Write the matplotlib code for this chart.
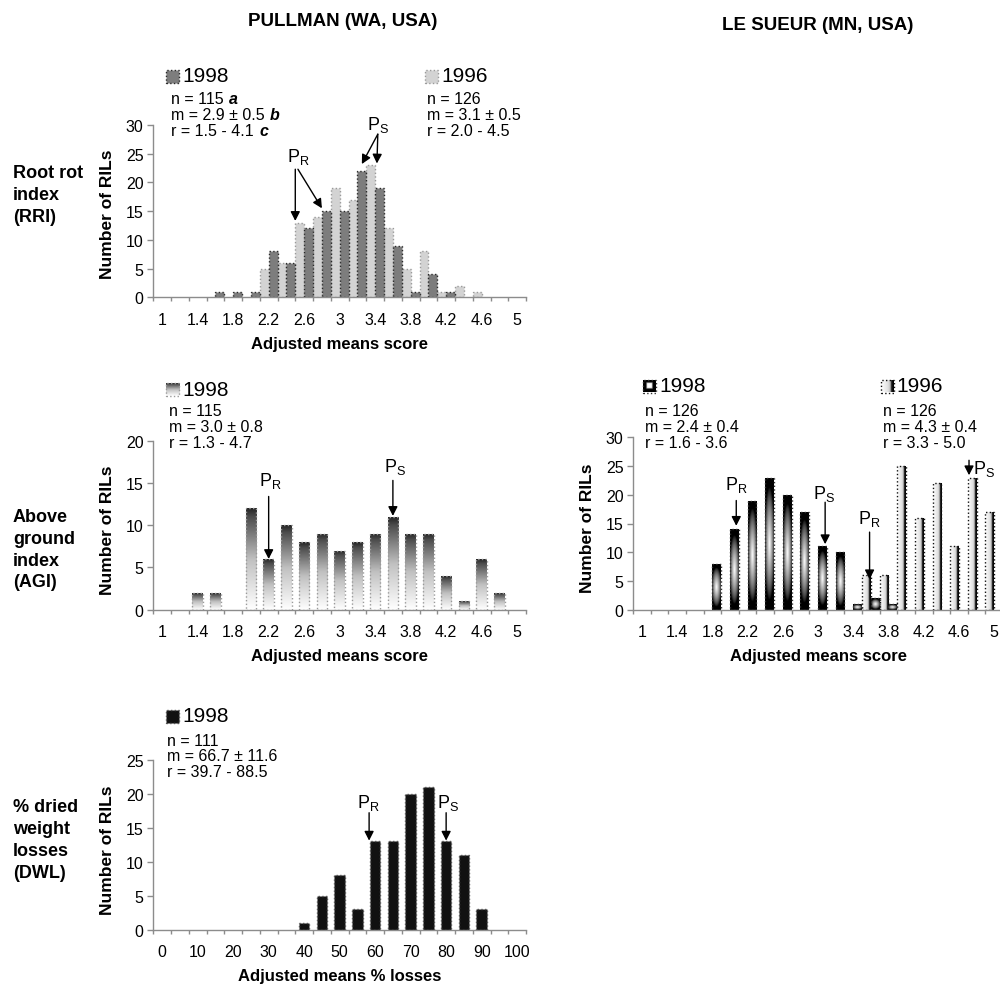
import numpy as np
import matplotlib
matplotlib.use("Agg")
import matplotlib.pyplot as plt

plt.rcParams['font.family'] = ['Liberation Sans', 'DejaVu Sans']
plt.rcParams['mathtext.fontset'] = 'custom'
plt.rcParams['mathtext.rm'] = 'Liberation Sans'
plt.rcParams['mathtext.it'] = 'Liberation Sans:italic'
plt.rcParams['mathtext.bf'] = 'Liberation Sans:bold'

# ---- data ----
score_bins = [1.0, 1.2, 1.4, 1.6, 1.8, 2.0, 2.2, 2.4, 2.6, 2.8, 3.0,
              3.2, 3.4, 3.6, 3.8, 4.0, 4.2, 4.4, 4.6, 4.8, 5.0]
score_labels = ['1', '1.4', '1.8', '2.2', '2.6', '3', '3.4', '3.8', '4.2', '4.6', '5']
loss_bins = [0, 5, 10, 15, 20, 25, 30, 35, 40, 45, 50,
             55, 60, 65, 70, 75, 80, 85, 90, 95, 100]
loss_labels = ['0', '10', '20', '30', '40', '50', '60', '70', '80', '90', '100']

rri_1998 = [0, 0, 0, 1, 1, 1, 8, 6, 12, 15, 15, 22, 19, 9, 1, 4, 1, 0, 0, 0, 0]
rri_1996 = [0, 0, 0, 0, 0, 0, 5, 6, 13, 14, 19, 17, 23, 12, 5, 8, 1, 2, 1, 0, 0]
agi_1998 = [0, 0, 2, 2, 0, 12, 6, 10, 8, 9, 7, 8, 9, 11, 9, 9, 4, 1, 6, 2, 0]
ls_1998 = [0, 0, 0, 0, 8, 14, 19, 23, 20, 17, 11, 10, 1, 2, 1, 0, 0, 0, 0, 0, 0]
ls_1996 = [0, 0, 0, 0, 0, 0, 0, 0, 0, 0, 0, 0, 0, 6, 6, 25, 16, 22, 11, 23, 17]
dwl_1998 = [0, 0, 0, 0, 0, 0, 0, 0, 1, 5, 8, 3, 13, 13, 20, 21, 13, 11, 3, 0, 0]

rri_stats_1998 = ['n = 115', 'm = 2.9 \u00b1 0.5', 'r = 1.5 - 4.1']
rri_marks_1998 = ['a', 'b', 'c']
rri_stats_1996 = ['n = 126', 'm = 3.1 \u00b1 0.5', 'r = 2.0 - 4.5']
agi_stats_1998 = ['n = 115', 'm = 3.0 \u00b1 0.8', 'r = 1.3 - 4.7']
ls_stats_1998 = ['n = 126', 'm = 2.4 \u00b1 0.4', 'r = 1.6 - 3.6']
ls_stats_1996 = ['n = 126', 'm = 4.3 \u00b1 0.4', 'r = 3.3 - 5.0']
dwl_stats_1998 = ['n = 111', 'm = 66.7 \u00b1 11.6', 'r = 39.7 - 88.5']

W, H = 1000, 987
GREY = '#8c8c8c'
TICK_FS = 11.5
fig = plt.figure(figsize=(10, 9.87), dpi=100)


def box(left, top, right, bottom):
    return [left / W, 1 - bottom / H, (right - left) / W, (bottom - top) / H]


def ftext(x, y, s, **kw):
    kw.setdefault('va', 'center')
    return fig.text(x / W, 1 - y / H, s, **kw)


def nonzero(xs, ys, shift=0.0):
    pts = [(x + shift, y) for x, y in zip(xs, ys) if y > 0]
    return [p[0] for p in pts], [p[1] for p in pts]


def base_axes(rect, ymax, ystep, bins, labels):
    ax = fig.add_axes(rect)
    for s in ('top', 'right'):
        ax.spines[s].set_visible(False)
    for s in ('left', 'bottom'):
        ax.spines[s].set_color(GREY)
        ax.spines[s].set_linewidth(1)
    step = bins[1] - bins[0]
    edges = [b - step / 2 for b in bins] + [bins[-1] + step / 2]
    ax.set_xlim(edges[0], edges[-1])
    ax.set_xticks(edges)
    ax.set_xticklabels([])
    ax.set_xticks(bins[::2], minor=True)
    ax.set_xticklabels(labels, minor=True)
    ax.tick_params(axis='x', which='major', direction='out', length=3, width=1, color=GREY)
    ax.tick_params(axis='x', which='minor', length=0, pad=10.5, labelsize=TICK_FS)
    ax.set_ylim(0, ymax)
    ax.set_yticks(range(0, ymax + 1, ystep))
    ax.tick_params(axis='y', direction='out', length=4, width=1, color=GREY, labelsize=TICK_FS, pad=3)
    return ax


def gradient_fill(ax, bars, arr):
    for b in bars:
        x0, y0, w, h = b.get_x(), b.get_y(), b.get_width(), b.get_height()
        im = ax.imshow(arr, extent=(x0, x0 + w, y0, y0 + h), cmap='gray', vmin=0, vmax=1,
                       aspect='auto', interpolation='bilinear', zorder=1)
        im.set_clip_path(b)


def legend_patch(left, top, size, face='none', edge='k', grad=None):
    pax = fig.add_axes(box(left, top, left + size, top + size))
    pax.set_axis_off()
    bars = pax.bar([0.5], [1], width=1, facecolor=face, edgecolor=edge,
                   linestyle=':', linewidth=1, clip_on=False, zorder=2)
    if grad is not None:
        gradient_fill(pax, bars, grad)
    pax.set_xlim(0, 1)
    pax.set_ylim(0, 1)


def legend_block(px, tx, ty, year, stats, sx, sy, grad=None, face='none', edge='k', marks=None):
    legend_patch(px, ty - 6.5, 13, face=face, edge=edge, grad=grad)
    ftext(tx, ty, year, fontsize=15)
    for i, line in enumerate(stats):
        t = ftext(sx, sy + i * 16, line, fontsize=11.5)
        if marks:
            fig.axes[0].annotate(marks[i], xy=(1, 0.5), xycoords=t, xytext=(4, 0),
                                 textcoords='offset points', va='center', ha='left',
                                 fontsize=11.5, fontweight='bold', fontstyle='italic')


def p_arrow(ax, sub, text_xy, starts, ends, ha='center'):
    ax.text(text_xy[0], text_xy[1], 'P$_{\\mathrm{' + sub + '}}$', ha=ha, va='center',
            fontsize=13, clip_on=False)
    for s, e in zip(starts, ends):
        ax.annotate('', xy=e, xytext=s, annotation_clip=False,
                    arrowprops=dict(arrowstyle='-|>,head_length=0.55,head_width=0.28',
                                    color='black', lw=1, shrinkA=0, shrinkB=0))


# gradients
t = np.linspace(0, 1, 64)[:, None]
agi_grad = np.interp(t, [0, 0.08, 0.5, 1], [0.15, 0.3, 0.75, 1.0])
u = np.linspace(-1, 1, 40)
v = np.linspace(-1, 1, 160)
U, V = np.meshgrid(u, v)
d = np.sqrt((0.75 * U) ** 2 + V ** 2)
ls98_grad = np.clip((0.85 - d) / 0.85, 0, 1) ** 0.7
pu, pv = np.meshgrid(np.linspace(-1, 1, 40), np.linspace(-1, 1, 40))
ls98_patch = np.clip((0.55 - np.maximum(abs(pu), abs(pv))) / 0.2, 0, 1)
ls96_grad = np.interp(np.linspace(0, 1, 40), [0, 0.55, 0.72, 0.82, 1],
                      [1.0, 0.88, 0.75, 0.1, 0.0])[None, :]

# ---- RRI (Pullman) ----
ax1 = base_axes(box(153.3, 126, 526, 298.3), 30, 5, score_bins, score_labels)
x, y = nonzero(score_bins, rri_1996, -0.05)
ax1.bar(x, y, width=0.1, facecolor='#d3d3d3', edgecolor='#9a9a9a', linestyle=':', linewidth=1, zorder=2)
x, y = nonzero(score_bins, rri_1998, 0.05)
ax1.bar(x, y, width=0.1, facecolor='#7d7d7d', edgecolor='#2a2a2a', linestyle=':', linewidth=1, zorder=2)
p_arrow(ax1, 'R', (2.53, 24.6), [(2.50, 22.3), (2.53, 22.3)], [(2.50, 13.3), (2.80, 15.5)])
p_arrow(ax1, 'S', (3.43, 30.2), [(3.43, 28.4), (3.43, 28.4)], [(3.25, 23.2), (3.42, 23.3)])

# ---- AGI (Pullman) ----
ax2 = base_axes(box(153.3, 441.7, 526, 610.7), 20, 5, score_bins, score_labels)
x, y = nonzero(score_bins, agi_1998)
bars = ax2.bar(x, y, width=0.12, facecolor='none', edgecolor='#9a9a9a', linestyle=':', linewidth=1, zorder=2)
gradient_fill(ax2, bars, agi_grad)
p_arrow(ax2, 'R', (2.22, 15.3), [(2.2, 13.4)], [(2.2, 6.0)])
p_arrow(ax2, 'S', (3.62, 17.0), [(3.6, 15.3)], [(3.6, 11.1)])

# ---- Le Sueur ----
ax3 = base_axes(box(633.3, 438.3, 1002.9, 610.7), 30, 5, score_bins, score_labels)
x, y = nonzero(score_bins, ls_1996, -0.05)
bars = ax3.bar(x, y, width=0.1, facecolor='none', edgecolor='#111111', linestyle=':', linewidth=1, zorder=2)
gradient_fill(ax3, bars, ls96_grad)
x, y = nonzero(score_bins, ls_1998, 0.05)
bars = ax3.bar(x, y, width=0.1, facecolor='none', edgecolor='#333333', linestyle=':', linewidth=1, zorder=2)
gradient_fill(ax3, bars, ls98_grad)
p_arrow(ax3, 'R', (2.07, 21.9), [(2.07, 19.0)], [(2.07, 14.6)])
p_arrow(ax3, 'S', (3.07, 20.3), [(3.08, 18.7)], [(3.08, 11.4)])
p_arrow(ax3, 'R', (3.58, 15.9), [(3.585, 13.5)], [(3.585, 5.3)])
p_arrow(ax3, 'S', (4.76, 24.6), [(4.715, 26.0)], [(4.715, 23.4)], ha='left')

# ---- DWL (Pullman) ----
ax4 = base_axes(box(153.3, 760.7, 526, 930.7), 25, 5, loss_bins, loss_labels)
x, y = nonzero(loss_bins, dwl_1998)
ax4.bar(x, y, width=3, facecolor='#111111', edgecolor='#555555', linestyle=':', linewidth=1, zorder=2)
p_arrow(ax4, 'R', (58.0, 18.8), [(58.3, 17.2)], [(58.3, 13.1)])
p_arrow(ax4, 'S', (80.4, 18.8), [(80, 17.2)], [(80, 13.1)])

for ax in (ax1, ax2, ax3, ax4):
    ax.set_ylim(bottom=0)

# ---- legends / stats ----
legend_block(166, 182, 77, '1998', rri_stats_1998, 171, 100, face='#7d7d7d', edge='#2a2a2a',
             marks=rri_marks_1998)
legend_block(425, 441, 77, '1996', rri_stats_1996, 427, 100, face='#d3d3d3', edge='#9a9a9a')
legend_block(166, 182, 390, '1998', agi_stats_1998, 169, 412, grad=agi_grad, edge='#9a9a9a')
legend_block(643, 659, 387, '1998', ls_stats_1998, 645, 412, grad=ls98_patch, edge='#333333')
legend_block(881, 896, 387, '1996', ls_stats_1996, 883, 412, grad=ls96_grad, edge='#111111')
legend_block(166, 182, 717, '1998', dwl_stats_1998, 167, 741, face='#111111', edge='#555555')

# ---- titles and labels ----
ftext(343, 22, 'PULLMAN (WA, USA)', fontsize=13.5, fontweight='bold', ha='center')
ftext(818, 26, 'LE SUEUR (MN, USA)', fontsize=13.5, fontweight='bold', ha='center')

for lines, y0 in ((['Root rot', 'index', '(RRI)'], 173),
                  (['Above', 'ground', 'index', '(AGI)'], 517),
                  (['% dried', 'weight', 'losses', '(DWL)'], 808)):
    for i, s in enumerate(lines):
        ftext(13, y0 + i * 22, s, fontsize=13, fontweight='bold', ha='left')

for xx, yy in ((107.5, 214), (107.5, 530), (587.5, 528), (107.5, 850)):
    ftext(xx, yy, 'Number of RILs', fontsize=12.5, fontweight='bold', rotation=90, ha='center')

ftext(339.7, 345, 'Adjusted means score', fontsize=12, fontweight='bold', ha='center')
ftext(339.7, 657, 'Adjusted means score', fontsize=12, fontweight='bold', ha='center')
ftext(818, 657, 'Adjusted means score', fontsize=12, fontweight='bold', ha='center')
ftext(339.7, 977, 'Adjusted means % losses', fontsize=12, fontweight='bold', ha='center')

fig.savefig('out.png', dpi=100)
